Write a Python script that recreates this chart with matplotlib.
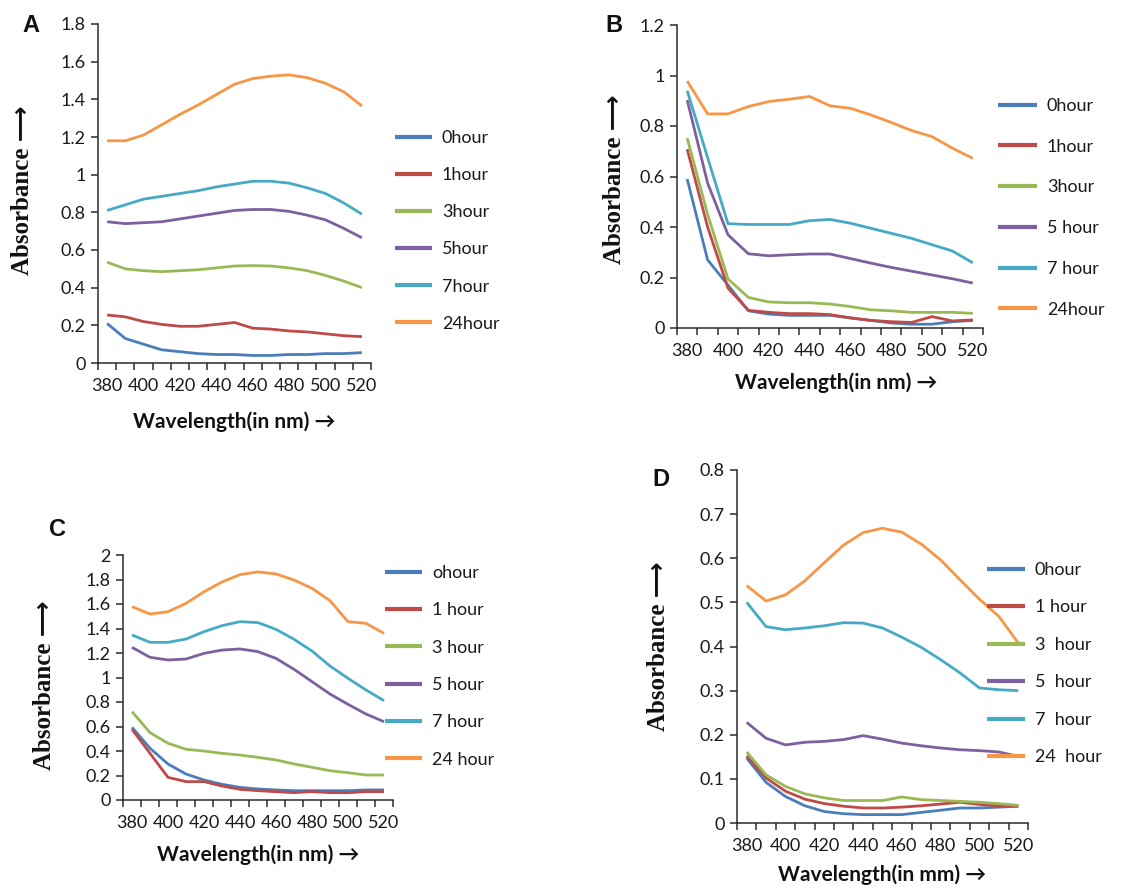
import matplotlib
matplotlib.use("Agg")
import matplotlib.pyplot as plt
import numpy as np

W, H = 1145, 889

# ---------------- data ----------------
wavelength = [380, 390, 400, 410, 420, 430, 440, 450, 460, 470, 480, 490, 500, 510, 520]

# Panel A
A_0h = [0.21, 0.13, 0.10, 0.07, 0.06, 0.05, 0.045, 0.045, 0.04, 0.04, 0.045, 0.045, 0.05, 0.05, 0.055]
A_1h = [0.255, 0.245, 0.22, 0.205, 0.195, 0.195, 0.205, 0.215, 0.185, 0.18, 0.17, 0.165, 0.155, 0.145, 0.14]
A_3h = [0.535, 0.50, 0.49, 0.485, 0.49, 0.495, 0.505, 0.515, 0.517, 0.515, 0.505, 0.49, 0.465, 0.435, 0.40]
A_5h = [0.75, 0.74, 0.745, 0.75, 0.765, 0.78, 0.795, 0.81, 0.815, 0.815, 0.805, 0.785, 0.76, 0.715, 0.665]
A_7h = [0.81, 0.84, 0.87, 0.885, 0.90, 0.915, 0.935, 0.95, 0.965, 0.965, 0.955, 0.93, 0.90, 0.85, 0.79]
A_24h = [1.18, 1.18, 1.21, 1.265, 1.32, 1.37, 1.425, 1.48, 1.51, 1.523, 1.53, 1.515, 1.485, 1.44, 1.365]

# Panel B
B_0h = [0.59, 0.27, 0.17, 0.068, 0.055, 0.05, 0.05, 0.05, 0.04, 0.03, 0.02, 0.015, 0.015, 0.025, 0.03]
B_1h = [0.708, 0.40, 0.158, 0.07, 0.062, 0.057, 0.057, 0.053, 0.04, 0.03, 0.025, 0.022, 0.045, 0.028, 0.032]
B_3h = [0.752, 0.45, 0.194, 0.121, 0.103, 0.10, 0.10, 0.095, 0.085, 0.072, 0.068, 0.062, 0.062, 0.062, 0.058]
B_5h = [0.903, 0.574, 0.369, 0.294, 0.286, 0.29, 0.293, 0.293, 0.275, 0.257, 0.24, 0.225, 0.21, 0.195, 0.178]
B_7h = [0.94, 0.675, 0.413, 0.41, 0.41, 0.41, 0.425, 0.43, 0.415, 0.395, 0.375, 0.355, 0.33, 0.305, 0.258]
B_24h = [0.978, 0.848, 0.848, 0.877, 0.897, 0.906, 0.917, 0.88, 0.87, 0.844, 0.814, 0.782, 0.758, 0.712, 0.672]

# Panel C
C_0h = [0.593, 0.422, 0.294, 0.212, 0.163, 0.128, 0.103, 0.09, 0.082, 0.076, 0.076, 0.076, 0.076, 0.082, 0.082]
C_1h = [0.577, 0.381, 0.185, 0.15, 0.15, 0.114, 0.087, 0.076, 0.068, 0.06, 0.068, 0.06, 0.06, 0.068, 0.068]
C_3h = [0.721, 0.55, 0.463, 0.414, 0.40, 0.381, 0.367, 0.348, 0.327, 0.294, 0.267, 0.239, 0.223, 0.204, 0.204]
C_5h = [1.246, 1.165, 1.143, 1.151, 1.197, 1.224, 1.233, 1.211, 1.156, 1.067, 0.966, 0.865, 0.781, 0.702, 0.639]
C_7h = [1.347, 1.287, 1.287, 1.314, 1.374, 1.423, 1.456, 1.448, 1.393, 1.312, 1.216, 1.094, 0.993, 0.898, 0.811]
C_24h = [1.578, 1.518, 1.537, 1.605, 1.70, 1.78, 1.84, 1.862, 1.845, 1.796, 1.728, 1.627, 1.456, 1.442, 1.36]

# Panel D
D_0h = [0.147, 0.092, 0.06, 0.039, 0.026, 0.021, 0.019, 0.019, 0.019, 0.024, 0.029, 0.034, 0.034, 0.036, 0.038]
D_1h = [0.152, 0.102, 0.072, 0.054, 0.044, 0.038, 0.034, 0.034, 0.036, 0.039, 0.043, 0.047, 0.042, 0.039, 0.038]
D_3h = [0.161, 0.109, 0.083, 0.066, 0.057, 0.051, 0.051, 0.051, 0.059, 0.053, 0.051, 0.049, 0.047, 0.044, 0.04]
D_5h = [0.228, 0.192, 0.177, 0.183, 0.185, 0.189, 0.198, 0.19, 0.181, 0.175, 0.17, 0.166, 0.164, 0.161, 0.151]
D_7h = [0.50, 0.445, 0.438, 0.442, 0.447, 0.454, 0.453, 0.442, 0.421, 0.398, 0.37, 0.34, 0.306, 0.302, 0.30]
D_24h = [0.538, 0.503, 0.517, 0.549, 0.59, 0.63, 0.658, 0.668, 0.659, 0.632, 0.596, 0.551, 0.507, 0.468, 0.408]

A_labels = ["0hour", "1hour", "3hour", "5hour", "7hour", "24hour"]
B_labels = ["0hour", "1hour", "3hour", "5 hour", "7 hour", "24hour"]
C_labels = ["ohour", "1 hour", "3 hour", "5 hour", "7 hour", "24 hour"]
D_labels = ["0hour", "1 hour", "3  hour", "5  hour", "7  hour", "24  hour"]

A_yticks = [0, 0.2, 0.4, 0.6, 0.8, 1.0, 1.2, 1.4, 1.6, 1.8]
B_yticks = [0, 0.2, 0.4, 0.6, 0.8, 1.0, 1.2]
C_yticks = [0, 0.2, 0.4, 0.6, 0.8, 1.0, 1.2, 1.4, 1.6, 1.8, 2.0]
D_yticks = [0, 0.1, 0.2, 0.3, 0.4, 0.5, 0.6, 0.7, 0.8]

x_ticklabels = [380, 400, 420, 440, 460, 480, 500, 520]

colors = ["#4A7EBB", "#BE4B48", "#98B954", "#7D60A0", "#46AAC5", "#F79646"]

# ---------------- layout ----------------
TICK_FONT = ["Lato", "DejaVu Sans"]


def px_rect(l, t, r, b):
    return [l / W, 1 - b / H, (r - l) / W, (b - t) / H]


panels = [
    dict(letter="A", rect=px_rect(98, 24, 371, 363), series=[A_0h, A_1h, A_3h, A_5h, A_7h, A_24h],
         labels=A_labels, yticks=A_yticks, xlabel="Wavelength(in nm) \u2192",
         letter_px=(31, 25), leg_px=(395, 130), leg_sp=1.17, leg_hl=2.05,
         xlab=(0.498, -0.174), ylab=(-0.278, 0.51)),
    dict(letter="B", rect=px_rect(677, 25, 983, 328), series=[B_0h, B_1h, B_3h, B_5h, B_7h, B_24h],
         labels=B_labels, yticks=B_yticks, xlabel="Wavelength(in nm) \u2192",
         letter_px=(614, 26), leg_px=(998, 98), leg_sp=1.37, leg_hl=2.15,
         xlab=(0.52, -0.18), ylab=(-0.205, 0.49)),
    dict(letter="C", rect=px_rect(123, 555, 393, 800), series=[C_0h, C_1h, C_3h, C_5h, C_7h, C_24h],
         labels=C_labels, yticks=C_yticks, xlabel="Wavelength(in nm) \u2192",
         letter_px=(58, 530), leg_px=(385, 565), leg_sp=1.18, leg_hl=2.05,
         xlab=(0.50, -0.224), ylab=(-0.29, 0.47)),
    dict(letter="D", rect=px_rect(737, 470, 1028, 823), series=[D_0h, D_1h, D_3h, D_5h, D_7h, D_24h],
         labels=D_labels, yticks=D_yticks, xlabel="Wavelength(in mm) \u2192",
         letter_px=(661, 480), leg_px=(987, 562), leg_sp=1.19, leg_hl=2.1,
         xlab=(0.498, -0.147), ylab=(-0.27, 0.50)),
]

fig = plt.figure(figsize=(W / 100, H / 100), dpi=100)
fig.patch.set_facecolor("white")

for p in panels:
    ax = fig.add_axes(p["rect"])
    handles = []
    for ys, c, lab in zip(p["series"], colors, p["labels"]):
        (ln,) = ax.plot(wavelength, ys, color=c, lw=2.0, label=lab, solid_capstyle="butt")
        handles.append(ln)

    ax.set_xlim(375, 525)
    ax.set_ylim(p["yticks"][0], p["yticks"][-1])

    for s in ("top", "right"):
        ax.spines[s].set_visible(False)
    for s in ("left", "bottom"):
        ax.spines[s].set_color("#2b2b2b")
        ax.spines[s].set_linewidth(1.1)

    # category boundaries as tick marks, labels at every other category centre
    ax.set_xticks(np.arange(375, 526, 10))
    ax.set_xticklabels([])
    ax.set_xticks(x_ticklabels, minor=True)
    ax.set_xticklabels([str(v) for v in x_ticklabels], minor=True, family=TICK_FONT, fontsize=13,
                       color="#1a1a1a")
    ax.tick_params(axis="x", which="major", direction="out", length=5, width=1.1, color="#2b2b2b")
    ax.tick_params(axis="x", which="minor", length=0, pad=11)

    ax.set_yticks(p["yticks"])
    ax.set_yticklabels([f"{v:g}" for v in p["yticks"]], family=TICK_FONT, fontsize=13, color="#1a1a1a")
    ax.tick_params(axis="y", direction="out", length=5, width=1.1, color="#2b2b2b", pad=4)

    ax.text(p["xlab"][0], p["xlab"][1], p["xlabel"], transform=ax.transAxes, ha="center", va="center",
            fontsize=15, fontweight="bold", family=["Lato", "DejaVu Sans"], color="#111111")
    ax.text(p["ylab"][0], p["ylab"][1], "Absorbance \u27f6", transform=ax.transAxes, rotation=90,
            ha="center", va="center", fontsize=18, fontweight="bold",
            family=["Liberation Serif", "DejaVu Sans"], color="#111111")

    fig.text(p["letter_px"][0] / W, 1 - p["letter_px"][1] / H, p["letter"], ha="center", va="center",
             fontsize=17, fontweight="bold", family=["Liberation Sans", "DejaVu Sans"], color="#111111")

    leg = ax.legend(handles=handles, labels=p["labels"], loc="upper left",
                    bbox_to_anchor=(p["leg_px"][0] / W, 1 - p["leg_px"][1] / H),
                    bbox_transform=fig.transFigure, frameon=False, borderpad=0, borderaxespad=0,
                    labelspacing=p["leg_sp"], handlelength=p["leg_hl"], handletextpad=0.55,
                    prop={"family": TICK_FONT, "size": 13})
    for t in leg.get_texts():
        t.set_color("#1a1a1a")
    for lh in leg.get_lines():
        lh.set_linewidth(3.0)

fig.savefig("out.png", dpi=100, facecolor="white")
